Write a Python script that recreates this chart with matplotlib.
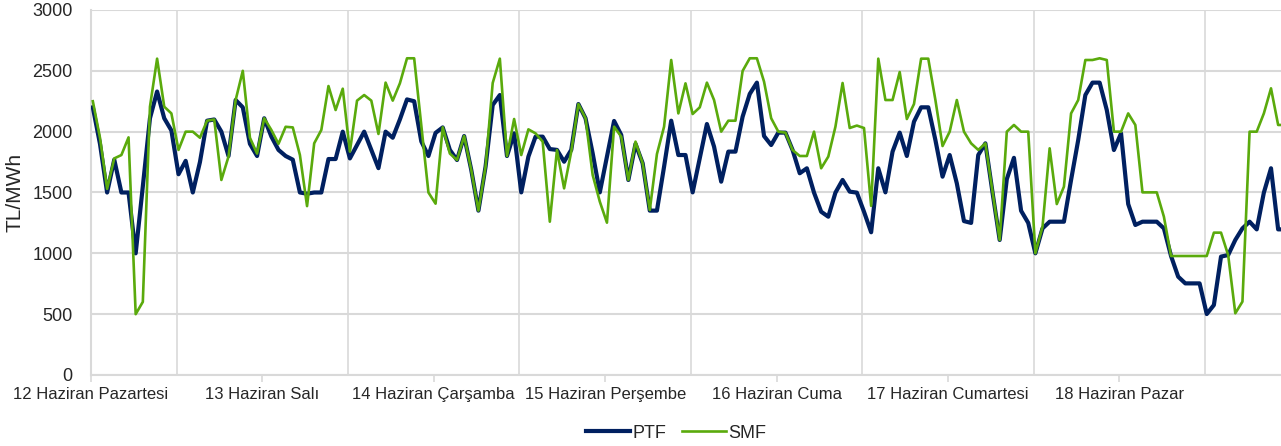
import matplotlib.pyplot as plt
from matplotlib.ticker import MultipleLocator, FixedLocator

plt.rcParams["font.family"] = ["Liberation Sans", "DejaVu Sans"]

# Hourly prices, 12-18 June (TL/MWh), one row per day
ptf = [
    2200, 1900, 1500, 1770, 1500, 1500, 1000, 1550, 2110, 2330, 2110, 2010,
    1650, 1760, 1500, 1750, 2090, 2100, 2000, 1800, 2260, 2200, 1900, 1800,
    2110, 1960, 1850, 1800, 1770, 1500, 1490, 1500, 1500, 1775, 1775, 2000,
    1780, 1890, 2000, 1850, 1700, 2000, 1950, 2100, 2265, 2250, 1920, 1800,
    1990, 2035, 1850, 1767, 1964, 1685, 1351, 1712, 2219, 2301, 1800, 1986,
    1501, 1795, 1959, 1959, 1857, 1850, 1753, 1850, 2227, 2110, 1822, 1501,
    1795, 2088, 1973, 1603, 1900, 1740, 1351, 1351, 1712, 2090, 1808, 1808,
    1501, 1781, 2063, 1877, 1589, 1836, 1836, 2123, 2310, 2403, 1964, 1890,
    1992, 1992, 1849, 1658, 1699, 1499, 1342, 1301, 1499, 1603, 1507, 1499,
    1342, 1173, 1699, 1501, 1836, 1992, 1800, 2082, 2200, 2200, 1931, 1630,
    1808, 1575, 1265, 1250, 1808, 1904, 1500, 1110, 1610, 1785, 1350, 1250,
    1000, 1205, 1260, 1260, 1260, 1603, 1931, 2301, 2403, 2403, 2178, 1849,
    1986, 1405, 1233, 1260, 1260, 1260, 1205, 978, 808, 753, 753, 753,
    501, 575, 973, 986, 1110, 1205, 1260, 1197, 1499, 1699, 1197, 1197,
]
smf = [
    2250, 1950, 1530, 1780, 1808, 1953, 500, 601, 2205, 2600, 2205, 2150,
    1850, 2000, 2000, 1950, 2090, 2100, 1603, 1795, 2260, 2500, 1950, 1820,
    2110, 2014, 1900, 2040, 2035, 1808, 1388, 1904, 2014, 2375, 2178, 2353,
    1836, 2255, 2301, 2255, 1981, 2403, 2255, 2397, 2603, 2603, 2050, 1500,
    1408, 2036, 1820, 1767, 1964, 1685, 1351, 1712, 2400, 2600, 1800, 2104,
    1808, 2019, 1986, 1918, 1260, 1849, 1534, 1836, 2227, 2110, 1644, 1425,
    1252, 2041, 1959, 1603, 1918, 1740, 1356, 1816, 2041, 2589, 2150, 2397,
    2145, 2200, 2403, 2260, 2000, 2090, 2090, 2499, 2603, 2603, 2411, 2110,
    2000, 1992, 1849, 1800, 1800, 2000, 1699, 1795, 2041, 2400, 2030, 2050,
    2030, 1390, 2600, 2260, 2260, 2490, 2104, 2227, 2600, 2600, 2260, 1882,
    2000, 2260, 2000, 1904, 1850, 1904, 1507, 1110, 2000, 2055, 2000, 2000,
    1000, 1219, 1863, 1405, 1548, 2150, 2260, 2589, 2589, 2603, 2589, 2000,
    2000, 2150, 2055, 1501, 1501, 1501, 1301, 978, 978, 978, 978, 978,
    978, 1170, 1170, 986, 507, 603, 2000, 2000, 2150, 2356, 2055, 2055,
]
day_labels = [
    "12 Haziran Pazartesi", "13 Haziran Salı", "14 Haziran Çarşamba",
    "15 Haziran Perşembe", "16 Haziran Cuma", "17 Haziran Cumartesi",
    "18 Haziran Pazar",
]

hours = list(range(len(ptf)))
grid_col = "#d9d9d9"
text_col = "#262626"

fig = plt.figure(figsize=(12.81, 4.46), dpi=100)
ax = fig.add_axes([0.0708, 0.1592, 0.9292, 0.8184])

ax.plot(hours, ptf, color="#002060", lw=3.0, label="PTF", zorder=3)
ax.plot(hours, smf, color="#5AAA0C", lw=1.9, label="SMF", zorder=4)

ax.set_xlim(-0.3, 166.4)
ax.set_ylim(0, 3000)
ax.yaxis.set_major_locator(MultipleLocator(500))

# day labels every 24 h, light grid every 12 h
ax.xaxis.set_major_locator(FixedLocator([24 * k - 0.25 for k in range(7)]))
ax.set_xticklabels(day_labels)
ax.xaxis.set_minor_locator(FixedLocator([12 * k - 0.25 for k in range(1, 14)]))

ax.grid(True, axis="y", color=grid_col, lw=1.5)
ax.grid(True, axis="x", which="minor", color=grid_col, lw=1.2)
ax.grid(False, axis="x", which="major")
ax.set_axisbelow(True)

for s in ["top", "right"]:
    ax.spines[s].set_visible(False)
ax.spines["left"].set_color(grid_col)
ax.spines["left"].set_linewidth(1.5)
ax.spines["bottom"].set_color(grid_col)
ax.spines["bottom"].set_linewidth(1.5)

ax.tick_params(axis="y", length=0, pad=13, labelsize=13, labelcolor=text_col)
ax.tick_params(axis="x", which="major", length=5, width=1.2, color=grid_col,
               pad=4, labelsize=12, labelcolor=text_col)
ax.tick_params(axis="x", which="minor", length=0)

ax.set_ylabel("TL/MWh", fontsize=15, color=text_col, va="center")
ax.yaxis.set_label_coords(-0.0640, 0.5)

fig.legend(loc="center", bbox_to_anchor=(0.528, 0.029), ncol=2, frameon=False,
           fontsize=13, handlelength=2.4, handletextpad=0.15, columnspacing=0.9,
           labelcolor=text_col)

plt.savefig("out.png", dpi=100)
